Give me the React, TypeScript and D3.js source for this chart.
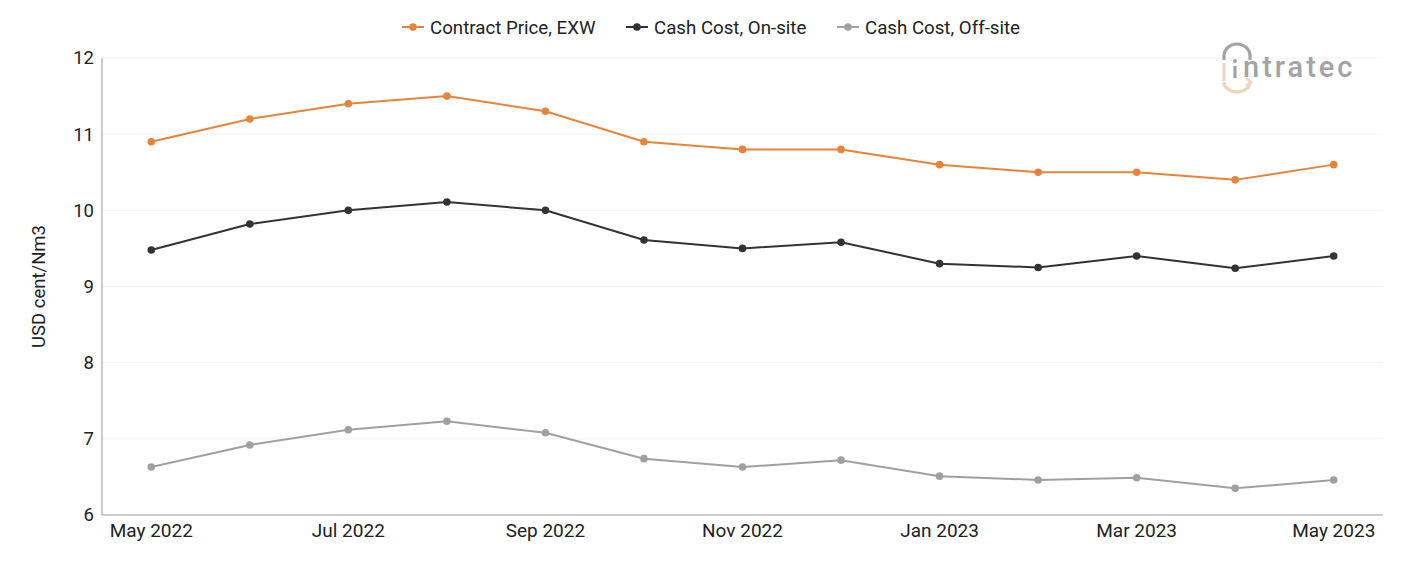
import React from "react";
import * as d3 from "d3";

const months = [
  "May 2022", "Jun 2022", "Jul 2022", "Aug 2022", "Sep 2022", "Oct 2022", "Nov 2022",
  "Dec 2022", "Jan 2023", "Feb 2023", "Mar 2023", "Apr 2023", "May 2023",
];
const tickMonths = ["May 2022", "Jul 2022", "Sep 2022", "Nov 2022", "Jan 2023", "Mar 2023", "May 2023"];
const contractPrice = [10.9, 11.2, 11.4, 11.5, 11.3, 10.9, 10.8, 10.8, 10.6, 10.5, 10.5, 10.4, 10.6];
const cashCostOnSite = [9.48, 9.82, 10.0, 10.11, 10.0, 9.61, 9.5, 9.58, 9.3, 9.25, 9.4, 9.24, 9.4];
const cashCostOffSite = [6.63, 6.92, 7.12, 7.23, 7.08, 6.74, 6.63, 6.72, 6.51, 6.46, 6.49, 6.35, 6.46];
const yTicks = [6, 7, 8, 9, 10, 11, 12];

const seriesList = [
  { name: "Contract Price, EXW", values: contractPrice, color: "#E8833A" },
  { name: "Cash Cost, On-site", values: cashCostOnSite, color: "#333333" },
  { name: "Cash Cost, Off-site", values: cashCostOffSite, color: "#A0A0A0" },
];

const W = 1401;
const H = 561;
const left = 102;
const right = 1383;
const top = 58;
const bottom = 515;
const font = "Roboto, 'Noto Sans', sans-serif";

export default function App() {
  const x = d3.scaleBand<string>().domain(months).range([left, right]);
  const cx = (m: string) => (x(m) ?? 0) + x.bandwidth() / 2;
  const y = d3.scaleLinear().domain([6, 12]).range([bottom, top]);
  const line = d3
    .line<number>()
    .x((_, i) => cx(months[i]))
    .y((d) => y(d));

  const legendX = [402, 626, 837];

  return (
    <svg width={W} height={H} style={{ position: "absolute", left: 0, top: 0, background: "#fff" }}>
      {/* gridlines */}
      {yTicks.slice(1).map((t) => (
        <line key={t} x1={left} x2={right} y1={y(t)} y2={y(t)} stroke="#f2f2f2" strokeWidth={1} />
      ))}
      {/* axes */}
      <line x1={left} x2={left} y1={top} y2={bottom} stroke="#9a9a9a" strokeWidth={1} />
      <line x1={left} x2={right} y1={bottom} y2={bottom} stroke="#9a9a9a" strokeWidth={1} />
      {yTicks.map((t) => (
        <text key={t} x={94} y={y(t)} dy="0.35em" textAnchor="end" fontFamily={font} fontSize={18.5} fill="#222">
          {t}
        </text>
      ))}
      {tickMonths.map((m) => (
        <text key={m} x={cx(m)} y={537} textAnchor="middle" fontFamily={font} fontSize={19} fill="#222">
          {m}
        </text>
      ))}
      <text
        transform={`translate(45,${(top + bottom) / 2}) rotate(-90)`}
        textAnchor="middle"
        fontFamily={font}
        fontSize={18.5}
        fill="#222"
      >
        USD cent/Nm3
      </text>

      {/* series */}
      {seriesList.map((s) => (
        <g key={s.name}>
          <path d={line(s.values) ?? ""} fill="none" stroke={s.color} strokeWidth={2} />
          {s.values.map((v, i) => (
            <circle key={i} cx={cx(months[i])} cy={y(v)} r={3.8} fill={s.color} />
          ))}
        </g>
      ))}

      {/* legend */}
      {seriesList.map((s, i) => (
        <g key={s.name} transform={`translate(${legendX[i]},27)`}>
          <line x1={0} x2={22} y1={0} y2={0} stroke={s.color} strokeWidth={2} />
          <circle cx={11} cy={0} r={3.8} fill={s.color} />
          <text x={28} y={0} dy="0.35em" fontFamily={font} fontSize={18.7} fill="#222">
            {s.name}
          </text>
        </g>
      ))}

      {/* logo */}
      <g opacity={0.9}>
        <path d="M1224,60 L1224,56 A13,12 0 0 1 1250,56 L1250,60" fill="none" stroke="#9a9a9a" strokeWidth={3.2} />
        <rect x={1222.4} y={63} width={3.2} height={18} fill="#ead2b8" />
        <circle cx={1235} cy={61} r={2} fill="#9a9a9a" />
        <rect x={1233.4} y={66} width={3.2} height={12} fill="#9a9a9a" />
        <path d="M1224,82 A13,10 0 0 0 1250,82" fill="none" stroke="#ead2b8" strokeWidth={3.2} />
        <path d="M1246,78 L1251,82 L1246,86" fill="none" stroke="#ead2b8" strokeWidth={2.5} />
        <text x={1243} y={77} fontFamily={font} fontSize={29} fontWeight={500} fill="#9a9a9a" letterSpacing={3}>
          ntratec
        </text>
      </g>
    </svg>
  );
}
